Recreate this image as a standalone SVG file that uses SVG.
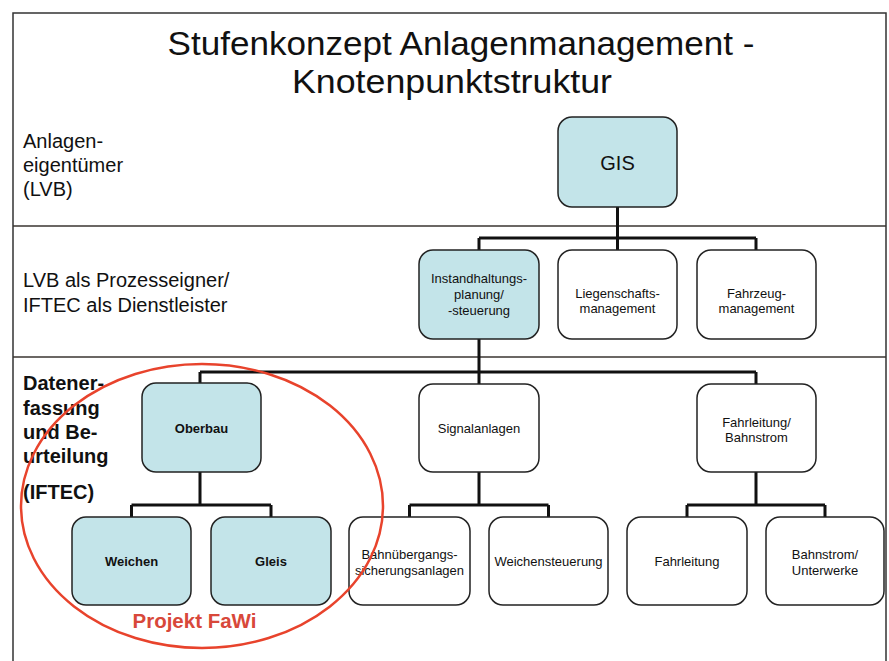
<svg xmlns="http://www.w3.org/2000/svg" width="889" height="661" viewBox="0 0 889 661">
<style>
.frame{fill:none;stroke:#333;stroke-width:1.5}
.sep{stroke:#3a3530;stroke-width:1.3}
.box{fill:#fff;stroke:#222;stroke-width:1.5}
.blue{fill:#c3e4e9}
.con{fill:none;stroke:#111;stroke-width:3}
.t{font-family:"Liberation Sans",Arial,sans-serif;fill:#111;text-anchor:middle;font-size:13px}
.b{font-weight:bold}
.lbl{font-family:"Liberation Sans",Arial,sans-serif;fill:#111;font-size:20px}
.lblb{font-family:"Liberation Sans",Arial,sans-serif;fill:#111;font-size:20px;font-weight:bold}
.title{font-family:"Liberation Sans",Arial,sans-serif;fill:#111;font-size:34px;text-anchor:middle}
</style>
<rect width="889" height="661" fill="#fff"/>
<path class="frame" d="M13,661 V13 H886 V661"/>
<line class="sep" x1="13" y1="226" x2="886" y2="226"/>
<line class="sep" x1="13" y1="357" x2="886" y2="357"/>
<text class="title" x="461" y="55" textLength="587" lengthAdjust="spacingAndGlyphs">Stufenkonzept Anlagenmanagement -</text>
<text class="title" x="452" y="93" textLength="320" lengthAdjust="spacingAndGlyphs">Knotenpunktstruktur</text>
<g id="label-eigentuemer">
<text class="lbl" x="23" y="148">Anlagen-</text>
<text class="lbl" x="23" y="172">eigentümer</text>
<text class="lbl" x="23" y="196">(LVB)</text>
</g>
<g id="label-prozess">
<text class="lbl" x="23" y="287">LVB als Prozesseigner/</text>
<text class="lbl" x="23" y="312">IFTEC als Dienstleister</text>
</g>
<g id="label-daten">
<text class="lblb" x="23" y="390">Datener-</text>
<text class="lblb" x="23" y="415">fassung</text>
<text class="lblb" x="23" y="439">und Be-</text>
<text class="lblb" x="23" y="463">urteilung</text>
<text class="lblb" x="23" y="499">(IFTEC)</text>
</g>
<g id="connectors">
<path class="con" d="M617.5,207 V238 M479,238 H756 M479,238 V250 M617.5,238 V250 M756,238 V250"/>
<path class="con" d="M479,339 V384 M200,372 H756 M200,372 V383 M756,372 V384"/>
<path class="con" d="M200,472 V505 M131.5,505 H271 M131.5,505 V517 M271,505 V517"/>
<path class="con" d="M479,472 V505 M409.5,505 H548.5 M409.5,505 V517 M548.5,505 V517"/>
<path class="con" d="M756,472 V505 M687,505 H825 M687,505 V517 M825,505 V517"/>
</g>
<g id="gis"><rect class="box blue" x="558" y="117" width="119" height="90" rx="14"/><text class="t" x="617.5" y="170" style="font-size:20px">GIS</text></g>
<g id="instandhaltung"><rect class="box blue" x="419" y="250" width="120" height="89" rx="14"/><text class="t" x="479" y="283">Instandhaltungs-</text><text class="t" x="479" y="299">planung/</text><text class="t" x="479" y="315">-steuerung</text></g>
<g id="liegenschaft"><rect class="box" x="558" y="250" width="119" height="89" rx="14"/><text class="t" x="617.5" y="298">Liegenschafts-</text><text class="t" x="617.5" y="313">management</text></g>
<g id="fahrzeug"><rect class="box" x="697" y="250" width="119" height="89" rx="14"/><text class="t" x="756.5" y="298">Fahrzeug-</text><text class="t" x="756.5" y="313">management</text></g>
<g id="oberbau"><rect class="box blue" x="142" y="383" width="119" height="89" rx="14"/><text class="t b" x="201.5" y="433">Oberbau</text></g>
<g id="signalanlagen"><rect class="box" x="419" y="384" width="120" height="88" rx="14"/><text class="t" x="479" y="433">Signalanlagen</text></g>
<g id="fahrleitung-bahnstrom"><rect class="box" x="697" y="384" width="119" height="88" rx="14"/><text class="t" x="756.5" y="427">Fahrleitung/</text><text class="t" x="756.5" y="442">Bahnstrom</text></g>
<g id="weichen"><rect class="box blue" x="72" y="517" width="119" height="88" rx="14"/><text class="t b" x="131.5" y="566">Weichen</text></g>
<g id="gleis"><rect class="box blue" x="211" y="517" width="120" height="88" rx="14"/><text class="t b" x="271" y="566">Gleis</text></g>
<g id="bahnuebergang"><rect class="box" x="349" y="517" width="121" height="88" rx="14"/><text class="t" x="409.5" y="559">Bahnübergangs-</text><text class="t" x="409.5" y="575">sicherungsanlagen</text></g>
<g id="weichensteuerung"><rect class="box" x="489" y="517" width="119" height="88" rx="14"/><text class="t" x="548.5" y="566">Weichensteuerung</text></g>
<g id="fahrleitung"><rect class="box" x="627" y="517" width="120" height="88" rx="14"/><text class="t" x="687" y="566">Fahrleitung</text></g>
<g id="bahnstrom"><rect class="box" x="766" y="517" width="118" height="88" rx="14"/><text class="t" x="825" y="559">Bahnstrom/</text><text class="t" x="825" y="575">Unterwerke</text></g>
<g id="projekt-fawi">
<ellipse cx="202" cy="506" rx="181" ry="142" fill="none" stroke="#e8432c" stroke-width="2.5"/>
<text x="194.5" y="628" style="font-family:'Liberation Sans',Arial,sans-serif;font-size:20.5px;font-weight:bold;fill:#d8483a;text-anchor:middle">Projekt FaWi</text>
</g>
</svg>
